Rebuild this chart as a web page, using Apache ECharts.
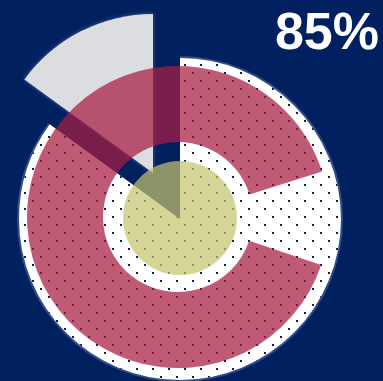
<!DOCTYPE html>
<html>
<head>
<meta charset="utf-8">
<script src="https://cdn.jsdelivr.net/npm/echarts@6/dist/echarts.min.js"></script>
<style>
html,body{margin:0;padding:0;background:#002060;}
#chart{width:383px;height:381px;}
</style>
</head>
<body>
<div id="chart"></div>
<script>
const titleText = '85%';
const discNames = ['Done', 'Remaining'];
const discValues = [85, 15];
const ringNames = ['C', 'Gap'];
const ringValues = [90, 10];
const coreNames = ['Sun'];
const coreValues = [100];

const chart = echarts.init(document.getElementById('chart'));
const dotDecal = {
  symbol: 'rect',
  symbolSize: 1,
  color: '#0a1f5c',
  dashArrayX: [[2, 14], [0, 8, 2, 6]],
  dashArrayY: [2, 6],
  rotation: 0
};
const clear = {color: 'rgba(0,0,0,0)'};
const common = {
  type: 'pie',
  silent: true,
  label: {show: false},
  labelLine: {show: false},
  emphasis: {disabled: true}
};
chart.setOption({
  animation: false,
  backgroundColor: '#002060',
  title: {
    text: titleText,
    right: -1,
    top: 4,
    textStyle: {color: '#ffffff', fontSize: 52, fontWeight: 'bold', fontFamily: 'Liberation Sans, Arial, sans-serif'}
  },
  series: [
    Object.assign({}, common, {
      center: [180, 219],
      radius: [0, 163],
      startAngle: 90,
      data: [
        {name: discNames[0], value: discValues[0], itemStyle: {color: 'rgba(110,130,185,0.45)'}},
        {name: discNames[1], value: discValues[1], itemStyle: clear}
      ]
    }),
    Object.assign({}, common, {
      center: [180, 219],
      radius: [0, 161],
      startAngle: 90,
      data: [
        {name: discNames[0], value: discValues[0], itemStyle: {color: '#ffffff', decal: dotDecal}},
        {name: discNames[1], value: discValues[1], itemStyle: clear}
      ]
    }),
    Object.assign({}, common, {
      center: [153, 173],
      radius: [0, 159],
      startAngle: 90,
      data: [
        {name: discNames[0], value: discValues[0], itemStyle: clear},
        {name: discNames[1], value: discValues[1], itemStyle: {color: '#dcdde0', shadowBlur: 4, shadowColor: 'rgba(120,140,190,0.6)'}}
      ]
    }),
    Object.assign({}, common, {
      center: [178, 217],
      radius: [75, 151],
      startAngle: -18.5,
      data: [
        {name: ringNames[0], value: ringValues[0], itemStyle: {color: 'rgba(168,28,65,0.72)'}},
        {name: ringNames[1], value: ringValues[1], itemStyle: clear}
      ]
    }),
    Object.assign({}, common, {
      center: [180, 218],
      radius: [0, 57],
      data: [
        {name: coreNames[0], value: coreValues[0], itemStyle: {color: 'rgba(197,196,110,0.71)'}}
      ]
    })
  ]
});
</script>
</body>
</html>
